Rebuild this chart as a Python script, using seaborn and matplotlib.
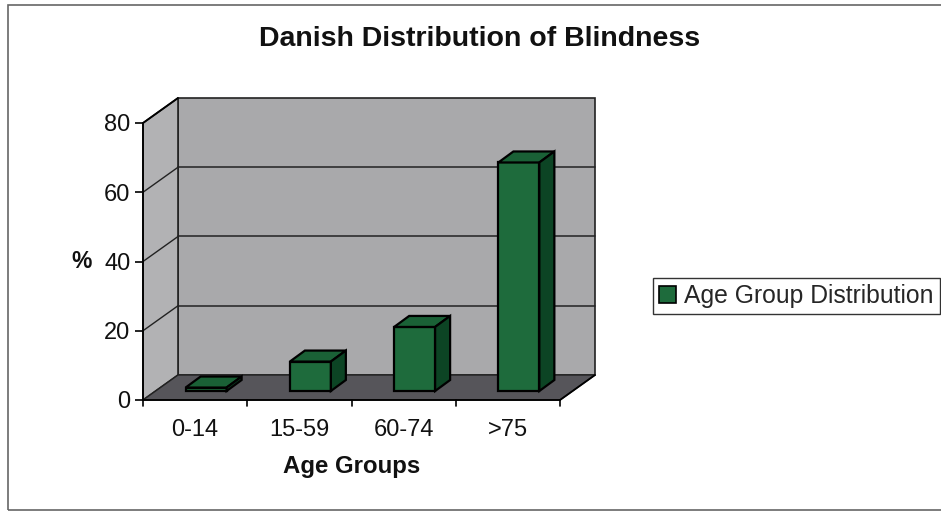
import matplotlib
matplotlib.use("Agg")
import matplotlib.pyplot as plt
import matplotlib.transforms as mtransforms
from matplotlib.patches import Polygon, Rectangle, Patch
import seaborn as sns
import pandas as pd

# ---- data ----
categories = ["0-14", "15-59", "60-74", ">75"]
values = [1, 8.5, 18.5, 66]
y_ticks = [0, 20, 40, 60, 80]
title = "Danish Distribution of Blindness"
x_label = "Age Groups"
y_label = "%"
series_name = "Age Group Distribution"

# ---- style ----
sns.set_theme(style="white")
plt.rcParams["font.family"] = ["Liberation Sans", "DejaVu Sans"]

W, H = 941, 515
fig = plt.figure(figsize=(W / 100, H / 100), dpi=100)
fig.patch.set_facecolor("white")

# front axis frame in pixels
x0p, x1p, y0p, y1p = 143, 560, 400, 123
ax = fig.add_axes([x0p / W, 1 - y0p / H, (x1p - x0p) / W, (y0p - y1p) / H])
ax.set_xlim(-0.5, len(categories) - 0.5)
ax.set_ylim(0, 80)
ax.patch.set_alpha(0)
for s in ax.spines.values():
    s.set_visible(False)

px_x = (x1p - x0p) / len(categories)  # pixels per category unit
px_y = (y0p - y1p) / 80.0             # pixels per value unit

# full depth offset (pixels) and in data units
DX, DY = 35 / px_x, 25 / px_y
xmin, xmax = -0.5, len(categories) - 0.5

wall_c = "#a9a9ab"
side_c = "#b2b2b4"
floor_c = "#56555a"

# back wall
ax.add_patch(Polygon([(xmin + DX, DY), (xmax + DX, DY), (xmax + DX, 80 + DY), (xmin + DX, 80 + DY)],
                     closed=True, facecolor=wall_c, edgecolor="#222222", lw=1.2, zorder=0.5, clip_on=False))
# side wall
ax.add_patch(Polygon([(xmin, 0), (xmin + DX, DY), (xmin + DX, 80 + DY), (xmin, 80)],
                     closed=True, facecolor=side_c, edgecolor="#222222", lw=1.2, zorder=0.5, clip_on=False))
# gridlines on walls
for t in y_ticks[1:-1]:
    ax.plot([xmin + DX, xmax + DX], [t + DY, t + DY], color="#222222", lw=1.1, zorder=0.6, clip_on=False)
    ax.plot([xmin, xmin + DX], [t, t + DY], color="#222222", lw=1.0, zorder=0.6, clip_on=False)
# floor
ax.add_patch(Polygon([(xmin, 0), (xmax, 0), (xmax + DX, DY), (xmin + DX, DY)],
                     closed=True, facecolor=floor_c, edgecolor="#222222", lw=1.0, zorder=0.7, clip_on=False))

# ---- bars ----
df = pd.DataFrame({"group": categories, "pct": values})
front_c = "#1e6b3c"
top_c = "#1a6136"
side_bar_c = "#0c4424"
n_before = len(ax.patches)
sns.barplot(data=df, x="group", y="pct", color=front_c, width=0.393, saturation=1,
            edgecolor="black", linewidth=1.6, ax=ax, zorder=2)
bars = ax.patches[n_before:]

# bars sit at mid depth: offset in pixels
bar_tr = mtransforms.offset_copy(ax.transData, fig=fig, x=11, y=9, units="dots")
BDX, BDY = 15 / px_x, 11 / px_y
for b in bars:
    b.set_transform(bar_tr)
    b.set_clip_on(False)
    bx, bw, bh = b.get_x(), b.get_width(), b.get_height()
    top = Polygon([(bx, bh), (bx + bw, bh), (bx + bw + BDX, bh + BDY), (bx + BDX, bh + BDY)],
                  closed=True, facecolor=top_c, edgecolor="black", lw=1.6, zorder=2.1,
                  transform=bar_tr, clip_on=False)
    side = Polygon([(bx + bw, 0), (bx + bw + BDX, BDY), (bx + bw + BDX, bh + BDY), (bx + bw, bh)],
                   closed=True, facecolor=side_bar_c, edgecolor="black", lw=1.6, zorder=2.1,
                   transform=bar_tr, clip_on=False)
    ax.add_patch(top)
    ax.add_patch(side)

# ---- axes lines and ticks ----
ax.plot([xmin, xmin], [0, 80], color="black", lw=1.3, zorder=3, clip_on=False)
ax.plot([xmin, xmin + DX], [80, 80 + DY], color="black", lw=1.3, zorder=3, clip_on=False)
ax.plot([xmin, xmax], [0, 0], color="black", lw=1.3, zorder=3, clip_on=False)
ax.plot([xmax, xmax + DX], [0, DY], color="black", lw=1.3, zorder=3, clip_on=False)

ax.set_yticks(y_ticks)
ax.set_yticklabels([str(t) for t in y_ticks])
ax.set_xticks(range(len(categories)))
ax.set_xticklabels(categories)
ax.tick_params(axis="y", which="major", left=True, length=6, width=1.2, color="black",
               labelsize=17, pad=3, labelcolor="#111111")
ax.tick_params(axis="x", which="major", bottom=False, labelsize=17, pad=8, labelcolor="#111111")
# x tick marks at category boundaries
for xb in [xmin + i for i in range(len(categories) + 1)]:
    ax.plot([xb, xb], [0, -6 / px_y], color="black", lw=1.2, clip_on=False, zorder=3)

ax.set_xlabel("")
ax.set_ylabel("")
fig.text(82 / W, 1 - 262 / H, y_label, ha="center", va="center", fontsize=16.5, fontweight="bold", color="#111111")
fig.text(352 / W, 1 - 467 / H, x_label, ha="center", va="center", fontsize=17.3, fontweight="bold", color="#111111")
fig.text(480 / W, 1 - 39 / H, title, ha="center", va="center", fontsize=20.5, fontweight="bold", color="#111111")

# ---- legend ----
handle = Patch(facecolor=front_c, edgecolor="black", linewidth=1.2, label=series_name)
leg = fig.legend(handles=[handle], loc="center left", bbox_to_anchor=(653 / W, 1 - 296 / H),
                 frameon=True, fancybox=False, fontsize=17.8, handlelength=0.7, handleheight=0.7,
                 handletextpad=0.3, borderpad=0.25, borderaxespad=0)
leg.get_frame().set_edgecolor("black")
leg.get_frame().set_linewidth(1.0)

# outer chart border (right side runs off the image)
fig.add_artist(Rectangle((8 / W, 1 - 510 / H), (W + 40) / W, (510 - 5) / H, transform=fig.transFigure,
                         fill=False, edgecolor="#666666", lw=1.2, clip_on=False))

fig.savefig("out.png", dpi=100, facecolor="white")
